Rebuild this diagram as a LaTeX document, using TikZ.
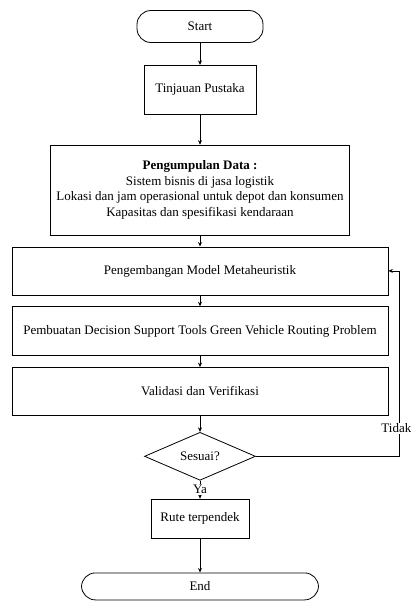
\documentclass[tikz,border=0pt]{standalone}
\usepackage{fontspec}
\setmainfont{Liberation Serif}
\usetikzlibrary{arrows.meta,positioning,shapes.geometric}

\begin{document}
\begin{tikzpicture}[x=1pt,y=-1pt,font=\fontsize{13}{15.5}\selectfont,
terminal/.style={draw,rounded corners=14pt,minimum height=30pt,line width=.8pt},
process/.style={draw,align=center,line width=.8pt,minimum height=48pt},
decision/.style={draw,diamond,aspect=2.25,minimum width=111pt,minimum height=48pt,inner sep=1pt,line width=.8pt},
arr/.style={-{Stealth[length=4.5pt,width=4pt]},line width=.8pt}]
\useasboundingbox (0,0) rectangle (411,608);
\node[terminal,minimum width=126pt,minimum height=32pt](start) at (200,26.5){Start};
\node[process,below=22pt of start,minimum width=112pt,minimum height=49pt](pustaka){Tinjauan Pustaka};
\node[process,below=30pt of pustaka,minimum width=299pt,minimum height=90pt](data){\textbf{Pengumpulan Data :}\\Sistem bisnis di jasa logistik\\Lokasi dan jam operasional untuk depot dan konsumen\\Kapasitas dan spesifikasi kendaraan};
\node[process,below=11pt of data,minimum width=376pt](model){Pengembangan Model Metaheuristik};
\node[process,below=11pt of model,minimum width=376pt,minimum height=49pt](tools){Pembuatan Decision Support Tools Green Vehicle Routing Problem};
\node[process,below=11pt of tools,minimum width=376pt](valid){Validasi dan Verifikasi};
\node[decision,below=16pt of valid](cek){Sesuai?};
\node[process,below=18pt of cek,minimum width=98pt,minimum height=39pt](rute){Rute terpendek};
\node[terminal,below=34pt of rute,minimum width=237pt,minimum height=27pt](end){End};
\draw[arr](start)--(pustaka);\draw[arr](pustaka)--(data);
\draw[arr](data)--(model);\draw[arr](model)--(tools);
\draw[arr](tools)--(valid);\draw[arr](valid)--(cek);
\draw[arr](cek)--node[fill=white,inner sep=1pt]{Ya}(rute);
\draw[arr](rute)--(end);
\draw[arr](cek.east)-|node[pos=.575,fill=white,inner sep=1pt,xshift=-3pt]{Tidak}([xshift=11pt]model.east)--(model.east);
\end{tikzpicture}
\end{document}
